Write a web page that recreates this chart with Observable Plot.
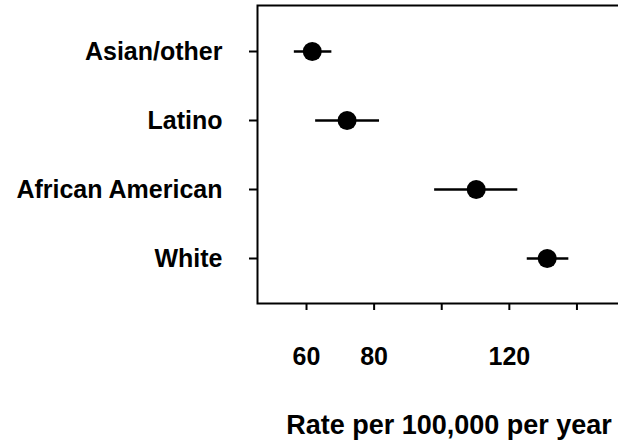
<!DOCTYPE html>
<html><head><meta charset="utf-8">
<script src="https://cdn.jsdelivr.net/npm/d3@7"></script>
<script src="https://cdn.jsdelivr.net/npm/@observablehq/plot@0.6"></script>
<style>html,body{margin:0;padding:0;background:#fff;overflow:hidden}svg{max-width:none!important}</style>
</head><body><div id="chart"></div>
<script>
const categories = ["Asian/other", "Latino", "African American", "White"];
const rates = [61.7, 72.0, 110.2, 131.2];
const lower = [56.4, 62.7, 97.9, 125.3];
const upper = [67.5, 81.6, 122.5, 137.6];
const xTicks = [60, 80, 100, 120, 140];
const xTickLabels = [60, 80, 120];
const xTitle = "Rate per 100,000 per year";

const data = categories.map((c, i) => ({group: c, rate: rates[i], lo: lower[i], hi: upper[i]}));

const chart = Plot.plot({
  width: 640, height: 442,
  marginLeft: 257, marginRight: 0, marginTop: 5, marginBottom: 139,
  style: {fontFamily: "'Liberation Sans', Arial, sans-serif", fontWeight: "bold", fontSize: "25px", background: "#fff", color: "#000", maxWidth: "none"},
  x: {domain: [45.5, 158.8]},
  y: {domain: categories, type: "point", padding: 0.65},
  marks: [
    Plot.frame({stroke: "#000", strokeWidth: 2}),
    Plot.axisX({ticks: xTicks, tickSize: 7, tickFormat: () => "", strokeWidth: 2, label: null}),
    Plot.axisX({ticks: xTickLabels, tickSize: 0, tickPadding: 44, fontSize: 25, label: null}),
    Plot.axisY({tickSize: 8, tickPadding: 27, strokeWidth: 2, fontSize: 25, label: null}),
    Plot.ruleY(data, {y: "group", x1: "lo", x2: "hi", strokeWidth: 2.5}),
    Plot.dot(data, {y: "group", x: "rate", r: 9.5, fill: "#000"}),
    Plot.text([xTitle], {frameAnchor: "bottom", dy: 130, lineAnchor: "bottom", fontSize: 27, text: d => d})
  ]
});
document.getElementById("chart").append(chart);
</script>
</body></html>
